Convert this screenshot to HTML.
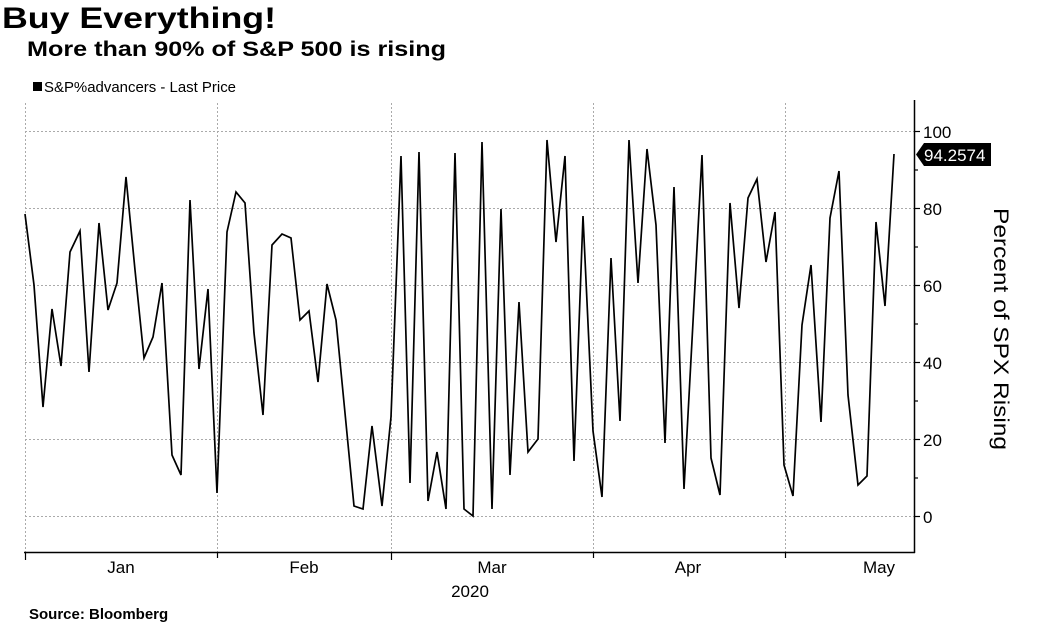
<!DOCTYPE html><html><head><style>body{margin:0;background:#fff;}svg{display:block}</style></head><body>
<svg width="1045" height="628" xmlns="http://www.w3.org/2000/svg" font-family="Liberation Sans, sans-serif">
<text x="2" y="28" font-size="30" font-weight="bold" textLength="274" lengthAdjust="spacingAndGlyphs">Buy Everything!</text>
<text x="27" y="56" font-size="21" font-weight="bold" textLength="419" lengthAdjust="spacingAndGlyphs">More than 90% of S&amp;P 500 is rising</text>
<rect x="33" y="82" width="9" height="9" fill="#000"/>
<text x="44" y="92" font-size="15" textLength="192" lengthAdjust="spacingAndGlyphs">S&amp;P%advancers - Last Price</text>
<g stroke="#aaa" stroke-dasharray="2,2" stroke-width="1">
<line x1="25" x2="914" y1="131.5" y2="131.5"/><line x1="25" x2="914" y1="208.5" y2="208.5"/><line x1="25" x2="914" y1="285.5" y2="285.5"/><line x1="25" x2="914" y1="362.5" y2="362.5"/><line x1="25" x2="914" y1="439.5" y2="439.5"/><line x1="25" x2="914" y1="516.5" y2="516.5"/>
<line x1="217.5" x2="217.5" y1="103" y2="552"/><line x1="391.5" x2="391.5" y1="103" y2="552"/><line x1="593.5" x2="593.5" y1="103" y2="552"/><line x1="785.5" x2="785.5" y1="103" y2="552"/><line x1="25.5" x2="25.5" y1="103" y2="552"/>
</g>
<line x1="914.5" x2="914.5" y1="100" y2="553" stroke="#000" stroke-width="1.5"/>
<line x1="24" x2="915" y1="552.5" y2="552.5" stroke="#000" stroke-width="1.5"/>
<g stroke="#000" stroke-width="1.2">
<line x1="914" x2="920" y1="131.5" y2="131.5"/><line x1="914" x2="920" y1="208.5" y2="208.5"/><line x1="914" x2="920" y1="285.5" y2="285.5"/><line x1="914" x2="920" y1="362.5" y2="362.5"/><line x1="914" x2="920" y1="439.5" y2="439.5"/><line x1="914" x2="920" y1="516.5" y2="516.5"/>
<line x1="914" x2="918" y1="170" y2="170"/><line x1="914" x2="918" y1="247" y2="247"/><line x1="914" x2="918" y1="324" y2="324"/><line x1="914" x2="918" y1="401" y2="401"/><line x1="914" x2="918" y1="478" y2="478"/>
<line x1="25.5" x2="25.5" y1="552" y2="560"/><line x1="217.5" x2="217.5" y1="552" y2="558"/><line x1="391.5" x2="391.5" y1="552" y2="560"/><line x1="593.5" x2="593.5" y1="552" y2="558"/><line x1="785.5" x2="785.5" y1="552" y2="558"/>
</g>
<g font-size="17" fill="#000">
<text x="923" y="138">100</text><text x="923" y="215">80</text><text x="923" y="292">60</text><text x="923" y="369">40</text><text x="923" y="446">20</text><text x="923" y="523">0</text>
<text x="121" y="573" text-anchor="middle">Jan</text><text x="304" y="573" text-anchor="middle">Feb</text><text x="492" y="573" text-anchor="middle">Mar</text><text x="688" y="573" text-anchor="middle">Apr</text><text x="879" y="573" text-anchor="middle">May</text>
<text x="470" y="597" text-anchor="middle">2020</text>
</g>
<text transform="translate(994,329) rotate(90)" font-size="21" text-anchor="middle" textLength="242" lengthAdjust="spacingAndGlyphs">Percent of SPX Rising</text>
<polygon points="916,154.5 924,143 991,143 991,166 924,166" fill="#000"/>
<text x="924" y="161" font-size="17" fill="#fff">94.2574</text>
<polyline fill="none" stroke="#000" stroke-width="1.7" stroke-linejoin="miter" points="25,214 34,285 43,407 52,309 61,366 70,252 80,231 89,372 99,223 108,310 117,283 126,177 135,270 144,358 153,337 162,283 172,455 181,475 190,200 199,369 208,289 217,493 227,232 236,192 245,203 254,333 263,415 272,245 282,234 291,238 300,320 309,311 318,382 327,284 336,320 354,506 363,509 372,426 382,506 391,417 401,156 410,483 419,152 428,501 437,452 446,509 455,153 464,509 473,516 482,142 492,509 501,209 510,475 519,302 528,452 538,439 547,140 556,242 565,156 574,461 583,216 593,431 602,497 611,258 620,421 629,140 638,283 647,149 656,225 665,443 674,187 684,489 702,155 711,458 720,495 730,203 739,308 748,198 757,179 766,262 775,212 784,465 793,496 802,325 811,265 821,422 830,218 839,171 848,395 858,485 867,476 876,222 885,306 894,154"/>
<text x="29" y="619" font-size="15" font-weight="bold">Source: Bloomberg</text>
</svg>
</body></html>
